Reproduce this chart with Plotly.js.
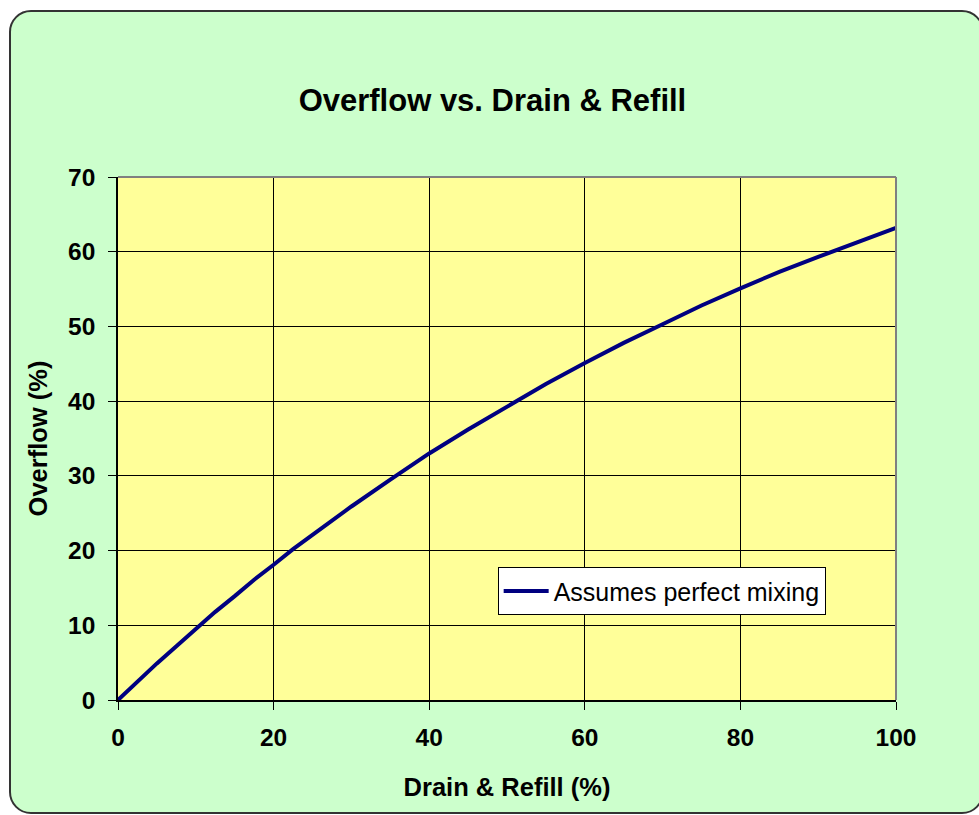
<!DOCTYPE html>
<html>
<head>
<meta charset="utf-8">
<script src="https://cdn.plot.ly/plotly-3.0.1.min.js"></script>
<style>
  html, body { margin: 0; padding: 0; background: #ffffff; }
  #frame { position: absolute; left: 9px; top: 10px; width: 975px; height: 804px;
           background: #CCFFCC; border: 2px solid #333333; border-radius: 22px; box-sizing: border-box; }
  #chart { position: absolute; left: 0; top: 0; width: 979px; height: 815px; }
</style>
</head>
<body>
<div id="frame"></div>
<div id="chart"></div>
<script>
const drainRefill = [0, 2.5, 5, 7.5, 10, 12.5, 15, 17.5, 20, 22.5, 25, 30, 35, 40, 45, 50, 55, 60, 65, 70, 75, 80, 85, 90, 95, 100];
const overflow    = [0, 2.5, 4.9, 7.2, 9.5, 11.8, 13.9, 16.1, 18.1, 20.2, 22.1, 25.9, 29.5, 33.0, 36.2, 39.3, 42.3, 45.1, 47.8, 50.3, 52.8, 55.1, 57.3, 59.3, 61.3, 63.2];
const seriesName = 'Assumes perfect mixing';
const xTicks = [0, 20, 40, 60, 80, 100];
const yTicks = [0, 10, 20, 30, 40, 50, 60, 70];

const font = 'Arial, "Liberation Sans", sans-serif';

Plotly.newPlot('chart', [{
  x: drainRefill, y: overflow, type: 'scatter', mode: 'lines', name: seriesName,
  line: { color: '#000080', width: 4 }
}], {
  width: 979, height: 815,
  paper_bgcolor: 'rgba(0,0,0,0)', plot_bgcolor: '#FFFF99',
  margin: { l: 118, r: 83, t: 177, b: 115 },
  title: { text: '<b>Overflow vs. Drain & Refill</b>', font: { family: font, size: 31, color: '#000' }, x: 0.503, xanchor: 'center', y: 0.877, yanchor: 'middle' },
  xaxis: {
    range: [0, 100], tickvals: xTicks, ticktext: xTicks.map(v => '<b>' + v + '</b>'),
    showgrid: true, gridcolor: '#000', gridwidth: 1, zeroline: false,
    showline: true, linecolor: '#000', linewidth: 1.5, mirror: false,
    ticks: 'outside', ticklen: 8, tickcolor: '#000', ticklabelstandoff: 7,
    tickfont: { family: font, size: 24.5, color: '#000' },
    title: { text: '<b>Drain & Refill (%)</b>', font: { family: font, size: 25.5, color: '#000' }, standoff: 28 }
  },
  yaxis: {
    range: [0, 70], tickvals: yTicks, ticktext: yTicks.map(v => '<b>' + v + '</b>'),
    showgrid: true, gridcolor: '#000', gridwidth: 1, zeroline: false,
    showline: true, linecolor: '#000', linewidth: 1.5, mirror: false,
    ticks: 'outside', ticklen: 8, tickcolor: '#000', ticklabelstandoff: 8,
    tickfont: { family: font, size: 24.5, color: '#000' },
    title: { text: '<b>Overflow (%)</b>', font: { family: font, size: 25.5, color: '#000' }, standoff: 13 }
  },
  shapes: [
    { type: 'line', xref: 'paper', yref: 'paper', x0: 0, x1: 1, y0: 1, y1: 1, line: { color: '#808080', width: 2 } },
    { type: 'line', xref: 'paper', yref: 'paper', x0: 1, x1: 1, y0: 0, y1: 1, line: { color: '#808080', width: 2 } }
  ],
  showlegend: true,
  legend: { x: 0.488, y: 0.254, xanchor: 'left', yanchor: 'top', bgcolor: '#ffffff', bordercolor: '#000', borderwidth: 1,
            itemwidth: 45, font: { family: font, size: 25, color: '#000' } }
}, { displayModeBar: false });
</script>
</body>
</html>
